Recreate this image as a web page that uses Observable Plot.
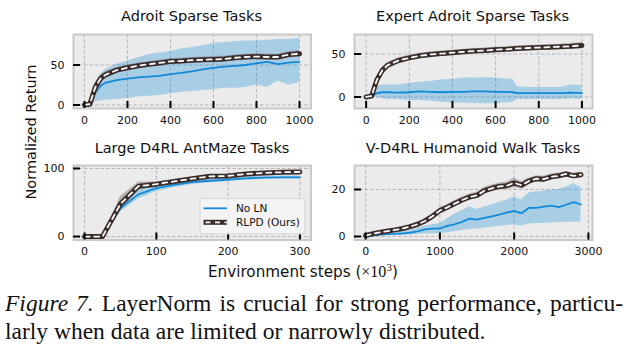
<!DOCTYPE html>
<html>
<head>
<meta charset="utf-8">
<script src="https://cdn.jsdelivr.net/npm/d3@7"></script>
<script src="https://cdn.jsdelivr.net/npm/@observablehq/plot@0.6"></script>
<style>
  html, body { margin: 0; padding: 0; background: #fff; }
  #wrap { position: relative; width: 631px; height: 354px; overflow: hidden; font-family: "DejaVu Sans", sans-serif; }
  #wrap svg.plot { position: absolute; }
  #overlay { position: absolute; left: 0; top: 0; pointer-events: none; }
  .cap { position: absolute; left: 5px; width: 618px; font-family: "Liberation Serif", serif; font-size: 23.5px; line-height: 28px; color: #111; }
  #cap1 { top: 289px; text-align: justify; text-align-last: justify; }
  #cap2 { top: 317px; }
</style>
</head>
<body>
<div id="wrap"></div>
<script>
// ---------- data ----------
const titles = ["Adroit Sparse Tasks", "Expert Adroit Sparse Tasks", "Large D4RL AntMaze Tasks", "V-D4RL Humanoid Walk Tasks"];
const seriesNames = ["No LN", "RLPD (Ours)"];

// Adroit Sparse Tasks
const adroitSteps   = [0, 25, 50, 75, 100, 150, 200, 250, 300, 350, 400, 450, 500, 550, 600, 650, 700, 750, 800, 850, 900, 950, 1000];
const adroitRlpd    = [0, 1, 22, 33, 38, 43.5, 46.5, 49, 51, 52.5, 54.5, 55, 56, 56.5, 57, 57.5, 59, 60, 60.5, 60, 60, 63, 64];
const adroitRlpdSd  = [0.5, 1, 6, 5, 4, 3.5, 3.5, 3.5, 3.5, 3.5, 3.5, 3.5, 3.5, 3.5, 3.5, 3.5, 3.5, 3.5, 3.5, 3.5, 3.5, 4, 4];
const adroitNoLn    = [0, 1, 15, 24, 28, 31, 33, 34.5, 35.5, 36.5, 38.5, 40, 42, 44.5, 46.5, 48, 49, 50, 52, 54, 51, 53, 54];
const adroitNoLnLo  = [0, 0, 4, 5, 6, 7, 8, 10, 11, 12, 14, 16, 17, 18, 19, 21, 21, 22, 25, 22, 30, 25, 28];
const adroitNoLnHi  = [0, 2, 26, 38, 45, 51, 55, 59, 63, 65, 67, 70, 72, 74, 77, 78, 79, 80, 80, 81, 82, 82, 83];
const adroitXTicks  = [0, 200, 400, 600, 800, 1000];
const adroitYTicks  = [0, 50];

// Expert Adroit Sparse Tasks
const expertSteps   = [0, 25, 50, 75, 100, 150, 200, 250, 300, 350, 400, 450, 500, 550, 600, 650, 680, 700, 750, 800, 850, 900, 950, 1000];
const expertRlpd    = [0, 1, 20, 31, 37, 42.5, 45.5, 48, 49.5, 50.5, 51.5, 52.5, 53.5, 54, 55, 55.5, 56, 56.5, 57, 57.5, 58, 58.5, 59, 60];
const expertRlpdSd  = [0.5, 1, 4, 4, 3.5, 3, 3, 3, 3, 3, 3, 3, 3, 3, 3, 3, 3, 3, 3, 3, 3, 3, 3.5, 3.5];
const expertNoLn    = [0, 1, 4.5, 5.5, 5.5, 5, 5.5, 6.5, 6, 5.5, 6, 6, 6.5, 6.5, 6, 6, 5.5, 4.5, 4.5, 4.5, 4.5, 4.5, 5, 4.5];
const expertNoLnLo  = [0, 0, -1, -2, -2.5, -3, -4, -4, -5, -6, -7, -7, -7.5, -8, -8, -7, -6, -3, -3, -3, -3, -3, -2, -3];
const expertNoLnHi  = [0, 2, 12, 14, 14, 14, 16, 17, 18, 20, 20.5, 22, 22, 22.5, 22, 21, 20.5, 12, 11, 11, 11, 11, 14, 13];
const expertXTicks  = [0, 200, 400, 600, 800, 1000];
const expertYTicks  = [0, 50];

// Large D4RL AntMaze Tasks
const antSteps      = [0, 25, 50, 75, 100, 125, 150, 175, 200, 225, 250, 275, 300];
const antRlpd       = [0, 0, 48, 74, 77, 81, 85, 88.5, 89, 92, 93.5, 94.5, 95];
const antRlpdSd     = [0.5, 0.5, 11, 6, 3, 3, 2.5, 2.5, 2.5, 2, 2, 2, 2];
const antNoLn       = [0, 0, 42, 62, 71, 76, 80, 82, 83.5, 85.5, 86.5, 87, 87];
const antNoLnSd     = [0.5, 0.5, 6, 7, 5, 4, 3.5, 3, 3, 2.5, 2, 2, 2];
const antXTicks     = [0, 100, 200, 300];
const antYTicks     = [0, 100];

// V-D4RL Humanoid Walk Tasks
const humSteps      = [0, 100, 200, 300, 400, 500, 600, 700, 800, 900, 1000, 1100, 1200, 1300, 1400, 1500, 1600, 1700, 1800, 1900, 2000, 2100, 2200, 2300, 2400, 2500, 2600, 2700, 2800, 2900];
const humRlpd       = [0.4, 1.2, 1.8, 2.3, 2.8, 3.4, 4.2, 5.2, 6.6, 8.6, 11, 12.4, 14, 15.5, 16.8, 17.5, 19.5, 20.5, 21.3, 21.6, 22.8, 21.8, 23.6, 24.6, 24.4, 25.4, 25.8, 26.6, 25.8, 26.3];
const humRlpdSd     = [0.5, 0.5, 0.6, 0.6, 0.7, 0.7, 0.8, 0.9, 1, 1.1, 1.2, 1.2, 1.3, 1.3, 1.3, 1.3, 1.4, 1.4, 1.5, 1.5, 2, 1.6, 1.3, 1.2, 1.2, 1.2, 1.2, 1.1, 1.1, 1.1];
const humNoLn       = [0, 0.4, 0.8, 1.0, 1.1, 1.3, 1.6, 2.2, 3.0, 3.3, 3.4, 4.5, 5.2, 6.2, 7.6, 7.2, 7.9, 8.6, 9.3, 10.2, 10.8, 9.9, 12.2, 12.2, 12.7, 13.1, 12.5, 13.5, 14.6, 13.6];
const humNoLnLo     = [-0.3, 0, 0.3, 0.4, 0.4, 0.5, 0.6, 0.9, 1.1, 1.2, 1.2, 1.6, 2, 2.5, 3, 3.2, 3.6, 4, 4.4, 4.7, 4.9, 4.5, 5.3, 5.5, 5.5, 5.7, 5.9, 6, 6.1, 6];
const humNoLnHi     = [0.5, 0.8, 1.2, 1.5, 1.8, 2.2, 2.7, 3.5, 4.5, 5, 5.5, 7.5, 9.5, 11, 12.6, 11.5, 12.5, 13.5, 14.5, 15.5, 16.8, 15.5, 18.5, 19, 19.3, 19.8, 20, 21, 22.4, 21];
const humXTicks     = [0, 1000, 2000, 3000];
const humYTicks     = [0, 20];

// ---------- drawing ----------
const wrap = document.getElementById("wrap");
const BLUE = "#1288d8", BAND = "#0d8bd9", DARK = "#3a2c29";

function panel(o) {
  const rows = o.steps.map((s, i) => ({
    step: s,
    rlpd: o.rlpd[i], rlo: o.rlpd[i] - o.rlpdSd[i], rhi: o.rlpd[i] + o.rlpdSd[i],
    noln: o.noln[i], nlo: o.nolnLo[i], nhi: o.nolnHi[i]
  }));
  const ML = 50, MT = 6, MR = 10, MB = 24;
  const w = o.right - o.left, h = o.bottom - o.top;
  const grid = {stroke: "#b0b0b0", strokeOpacity: 1, strokeWidth: 0.9, strokeDasharray: "3.5,2"};
  const svg = Plot.plot({
    width: w + ML + MR, height: h + MT + MB,
    marginLeft: ML, marginTop: MT, marginRight: MR, marginBottom: MB,
    x: {domain: o.xDomain, label: null},
    y: {domain: o.yDomain, label: null},
    style: {fontFamily: "DejaVu Sans", fontSize: "11px", color: "#111", background: "transparent", overflow: "visible"},
    marks: [
      Plot.frame({fill: "#ebebeb", stroke: null}),
      Plot.gridX(o.xTicks, grid),
      Plot.gridY(o.yTicks, grid),
      Plot.areaY(rows, {x: "step", y1: "nlo", y2: "nhi", fill: BAND, fillOpacity: 0.3}),
      Plot.areaY(rows, {x: "step", y1: "rlo", y2: "rhi", fill: "#6e5f5a", fillOpacity: 0.4}),
      Plot.line(rows, {x: "step", y: "noln", stroke: BLUE, strokeWidth: 1.8}),
      Plot.line(rows, {x: "step", y: "rlpd", stroke: DARK, strokeWidth: 5}),
      Plot.line(rows, {x: "step", y: "rlpd", stroke: "#fff", strokeWidth: 1.8, strokeDasharray: "5,4.5"}),
      Plot.frame({stroke: "#c9c9c9", strokeWidth: 2}),
      Plot.tickX(o.xTicks, {x: d => d, stroke: "#000", strokeWidth: 2, insetTop: h - 7}),
      Plot.tickY(o.yTicks, {y: d => d, stroke: "#000", strokeWidth: 2, insetRight: w - 7}),
      Plot.axisX(o.xTicks, {tickSize: 0, tickPadding: 7.5, tickFormat: d => String(d)}),
      Plot.axisY(o.yTicks, {tickSize: 0, tickPadding: 9, tickFormat: d => String(d)})
    ]
  });
  svg.classList.add("plot");
  svg.style.left = (o.left - ML) + "px";
  svg.style.top = (o.top - MT) + "px";
  wrap.appendChild(svg);
}

panel({steps: adroitSteps, rlpd: adroitRlpd, rlpdSd: adroitRlpdSd, noln: adroitNoLn, nolnLo: adroitNoLnLo, nolnHi: adroitNoLnHi,
  xDomain: [-51, 1053.5], yDomain: [-4.4, 88.1], xTicks: adroitXTicks, yTicks: adroitYTicks,
  left: 73, right: 310.5, top: 33.5, bottom: 107.5});
panel({steps: expertSteps, rlpd: expertRlpd, rlpdSd: expertRlpdSd, noln: expertNoLn, nolnLo: expertNoLnLo, nolnHi: expertNoLnHi,
  xDomain: [-54, 1049], yDomain: [-13.4, 72.7], xTicks: expertXTicks, yTicks: expertYTicks,
  left: 353.5, right: 591.5, top: 33.5, bottom: 107.5});
panel({steps: antSteps, rlpd: antRlpd, rlpdSd: antRlpdSd, noln: antNoLn,
  nolnLo: antNoLn.map((v, i) => v - antNoLnSd[i]), nolnHi: antNoLn.map((v, i) => v + antNoLnSd[i]),
  xDomain: [-15.5, 315.5], yDomain: [-5.1, 104.4], xTicks: antXTicks, yTicks: antYTicks,
  left: 73, right: 310.5, top: 165, bottom: 239.5});
panel({steps: humSteps, rlpd: humRlpd, rlpdSd: humRlpdSd, noln: humNoLn, nolnLo: humNoLnLo, nolnHi: humNoLnHi,
  xDomain: [-150, 3055], yDomain: [-1.5, 30.2], xTicks: humXTicks, yTicks: humYTicks,
  left: 353.5, right: 591.5, top: 165, bottom: 239.5});

// ---------- titles, labels, legend ----------
const NS = "http://www.w3.org/2000/svg";
const ov = document.createElementNS(NS, "svg");
ov.setAttribute("id", "overlay");
ov.setAttribute("width", 631); ov.setAttribute("height", 354);
ov.setAttribute("font-family", "DejaVu Sans");
ov.innerHTML = `
  <g font-size="14.5" fill="#111" text-anchor="middle">
    <text x="191.5" y="21">${titles[0]}</text>
    <text x="472.5" y="21">${titles[1]}</text>
    <text x="192" y="152.5">${titles[2]}</text>
    <text x="473" y="152.5">${titles[3]}</text>
  </g>
  <text font-size="14.5" fill="#111" text-anchor="middle" transform="translate(36,132) rotate(-90)">Normalized Return</text>
  <text x="208" y="276.5" font-size="15.2" fill="#111">Environment steps <tspan font-family="DejaVu Sans">(</tspan><tspan font-family="Liberation Serif" font-size="16">×10</tspan><tspan font-family="Liberation Serif" font-size="11" dy="-6">3</tspan><tspan dy="6">)</tspan></text>
  <rect x="200" y="198.3" width="105" height="35.7" rx="3" fill="#f6f6f6" fill-opacity="0.85" stroke="#d2d2d2" stroke-width="1"></rect>
  <line x1="203.5" x2="227" y1="208.3" y2="208.3" stroke="${BLUE}" stroke-width="1.8"></line>
  <line x1="203.5" x2="227" y1="222.3" y2="222.3" stroke="${DARK}" stroke-width="5"></line>
  <line x1="203.5" x2="227" y1="222.3" y2="222.3" stroke="#fff" stroke-width="1.8" stroke-dasharray="5,4.5" stroke-dashoffset="-2"></line>
  <g font-size="10.5" fill="#111">
    <text x="236" y="212">${seriesNames[0]}</text>
    <text x="236" y="226">${seriesNames[1]}</text>
  </g>`;
wrap.appendChild(ov);

// ---------- caption ----------
const c1 = document.createElement("div");
c1.id = "cap1"; c1.className = "cap";
c1.innerHTML = "<i>Figure 7.</i> LayerNorm is crucial for strong performance, particu-";
const c2 = document.createElement("div");
c2.id = "cap2"; c2.className = "cap";
c2.textContent = "larly when data are limited or narrowly distributed.";
wrap.appendChild(c1); wrap.appendChild(c2);
</script>
</body>
</html>
